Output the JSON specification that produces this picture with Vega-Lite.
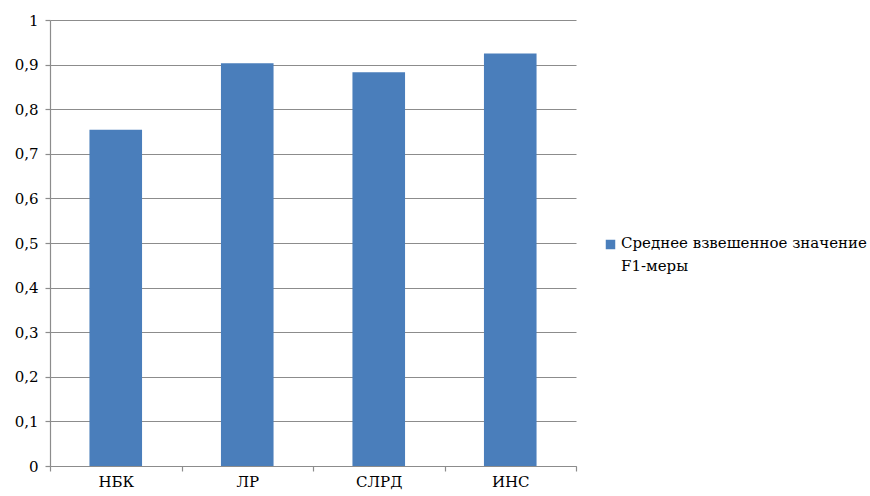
{
  "$schema": "https://vega.github.io/schema/vega-lite/v6.json",
  "width": 526,
  "height": 446,
  "autosize": {"type": "none"},
  "padding": {"left": 50, "top": 20, "right": 294, "bottom": 30},
  "background": "white",
  "config": {
    "view": {"stroke": null},
    "font": "DejaVu Serif",
    "axis": {
      "labelFont": "DejaVu Serif",
      "labelFontSize": 15,
      "labelColor": "#000000",
      "domainColor": "#8c8c8c",
      "tickColor": "#8c8c8c",
      "gridColor": "#8c8c8c",
      "gridWidth": 1.2,
      "domainWidth": 1.2,
      "tickWidth": 1.2,
      "title": null
    },
    "legend": {
      "labelFont": "DejaVu Serif",
      "labelFontSize": 15,
      "labelColor": "#000000"
    }
  },
  "data": {
    "values": [
      {"method": "НБК", "series": "Среднее взвешенное значение F1-меры", "f1": 0.754},
      {"method": "ЛР", "series": "Среднее взвешенное значение F1-меры", "f1": 0.903},
      {"method": "СЛРД", "series": "Среднее взвешенное значение F1-меры", "f1": 0.883},
      {"method": "ИНС", "series": "Среднее взвешенное значение F1-меры", "f1": 0.925}
    ]
  },
  "mark": {"type": "bar", "width": {"band": 0.4}},
  "encoding": {
    "x": {
      "field": "method",
      "type": "nominal",
      "sort": null,
      "scale": {"paddingInner": 0, "paddingOuter": 0},
      "axis": {
        "labelAngle": 0,
        "tickBand": "extent",
        "tickSize": 5,
        "labelPadding": 3,
        "grid": false
      }
    },
    "y": {
      "field": "f1",
      "type": "quantitative",
      "scale": {"domain": [0, 1], "nice": false},
      "axis": {
        "values": [0, 0.1, 0.2, 0.3, 0.4, 0.5, 0.6, 0.7, 0.8, 0.9, 1],
        "labelExpr": "replace(format(datum.value, '~g'), '.', ',')",
        "tickSize": 5,
        "labelPadding": 7,
        "grid": true
      }
    },
    "color": {
      "field": "series",
      "type": "nominal",
      "scale": {"range": ["#4a7ebb"]},
      "legend": {
        "title": null,
        "orient": "none",
        "legendX": 553,
        "legendY": 217,
        "symbolType": "square",
        "symbolSize": 90,
        "symbolStrokeWidth": 0,
        "labelOffset": 3,
        "labelLimit": 300,
        "labelExpr": "['Среднее взвешенное значение', 'F1-меры']",
        "labelBaseline": "top",
        "encode": {
          "labels": {"update": {"lineHeight": {"value": 23}, "dy": {"value": -9}}}
        }
      }
    }
  }
}
